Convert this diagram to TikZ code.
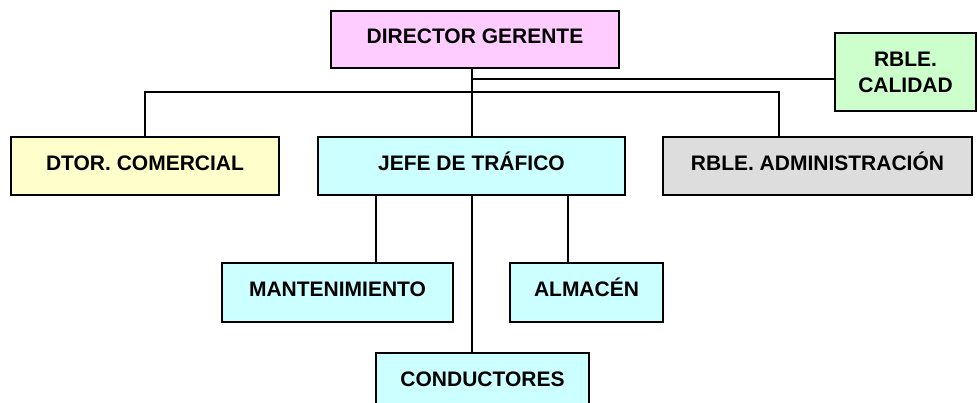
\documentclass[tikz,border=0pt]{standalone}
\usepackage{fontspec}
\setmainfont{Liberation Sans}
\definecolor{cpink}{HTML}{FFCCFF}
\definecolor{cgreen}{HTML}{CCFFCC}
\definecolor{cyellow}{HTML}{FFFFCC}
\definecolor{ccyan}{HTML}{CCFFFF}
\definecolor{cgray}{HTML}{DDDDDD}
\tikzset{
  box/.style={draw=black, line width=1.6pt, inner sep=0pt, font=\fontsize{21}{26}\selectfont\bfseries,
              text height=15pt, text depth=6pt},
  box2/.style={draw=black, line width=1.6pt, inner sep=0pt, font=\fontsize{21}{26}\selectfont\bfseries, align=center},
  conn/.style={draw=black, line width=1.8pt}
}
\begin{document}
\begin{tikzpicture}[x=1pt,y=-1pt]
\useasboundingbox (0,0) rectangle (978,403);
\begin{scope}
\clip (0,0) rectangle (978,403);
\node[box, fill=cpink, minimum width=288pt, minimum height=57pt] (dir) at (475,39.5) {DIRECTOR GERENTE};
\node[box2, fill=cgreen, minimum width=141pt, minimum height=78pt] (cal) at (905.5,72) {RBLE.\\CALIDAD};
\node[box, fill=cyellow, minimum width=268pt, minimum height=58pt] (com) at (145,166) {DTOR. COMERCIAL};
\node[box, fill=ccyan, minimum width=307pt, minimum height=58pt] (jefe) at (471.5,166) {JEFE DE TRÁFICO};
\node[box, fill=cgray, minimum width=309pt, minimum height=58pt] (adm) at (817.5,166) {RBLE. ADMINISTRACIÓN};
\node[box, fill=ccyan, minimum width=231pt, minimum height=59pt] (man) at (337.5,292.5) {MANTENIMIENTO};
\node[box, fill=ccyan, minimum width=153pt, minimum height=59pt] (alm) at (586.5,292.5) {ALMACÉN};
\node[box, fill=ccyan, minimum width=213pt, minimum height=58pt] (con) at (482.5,382) {CONDUCTORES};
\end{scope}
\coordinate (cx) at (472,0);
\coordinate (cy) at (0,79);
\coordinate (by) at (0,92);
\coordinate (ax) at (779,0);
\coordinate (mx) at (376,0);
\coordinate (lx) at (568,0);
\draw[conn] (dir.south -| cx) -- (jefe.north -| cx);
\draw[conn] (cx |- cy) -- (cal.west |- cy);
\draw[conn] (com.north) -- (com.north |- by) -- (ax |- by) -- (adm.north -| ax);
\draw[conn] (jefe.south -| mx) -- (man.north -| mx);
\draw[conn] (jefe.south -| cx) -- (con.north -| cx);
\draw[conn] (jefe.south -| lx) -- (alm.north -| lx);
\end{tikzpicture}
\end{document}
